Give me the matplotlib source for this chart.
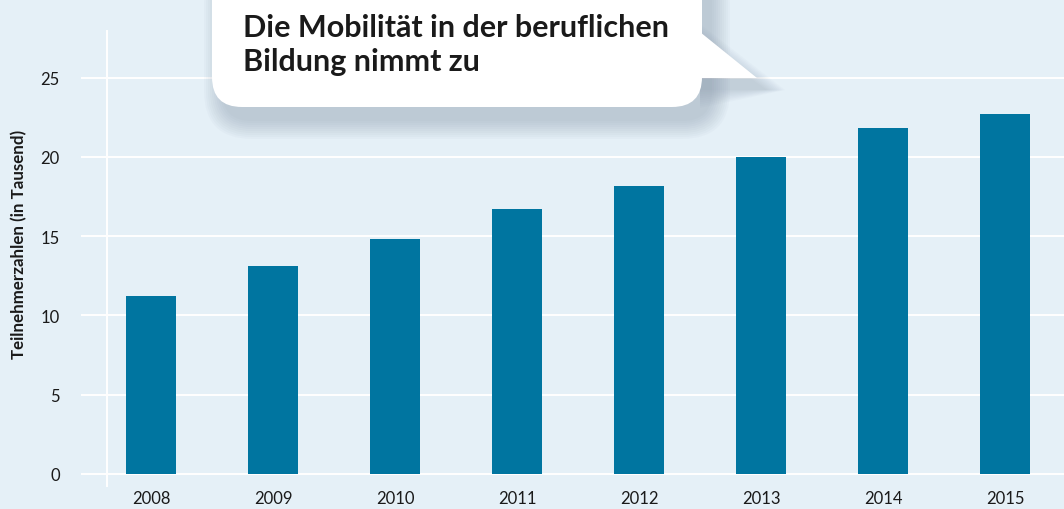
import matplotlib.pyplot as plt
from matplotlib.patches import FancyBboxPatch, Polygon

years = ['2008', '2009', '2010', '2011', '2012', '2013', '2014', '2015']
teilnehmer = [11.2, 13.1, 14.8, 16.7, 18.2, 20.0, 21.8, 22.7]
y_ticks = [0, 5, 10, 15, 20, 25]
titel = ['Die Mobilität in der beruflichen', 'Bildung nimmt zu']

BG = '#e5f0f7'
BAR = '#0075a0'
TXT = '#1a1a1a'

plt.rcParams['font.family'] = ['Lato', 'DejaVu Sans']

fig = plt.figure(figsize=(10.64, 5.10), dpi=100)
fig.patch.set_facecolor(BG)

ax = fig.add_axes([107 / 1064, 23 / 510, 957 / 1064, 455 / 510])
ax.set_facecolor(BG)
x = list(range(len(years)))
ax.bar(x, teilnehmer, width=0.41, color=BAR, zorder=3)

ax.set_xlim(-0.36, 7.48)
ax.set_ylim(-0.76, 27.95)
ax.set_yticks(y_ticks)
ax.set_xticks(x)
ax.set_xticklabels(years)
ax.grid(axis='y', color='white', linewidth=1.4, zorder=1)
ax.tick_params(axis='y', length=19, width=1.4, color='white', pad=15,
               labelsize=12, labelcolor=TXT)
ax.tick_params(axis='x', length=0, pad=3, labelsize=12, labelcolor=TXT)
for s in ['top', 'right', 'bottom']:
    ax.spines[s].set_visible(False)
ax.spines['left'].set_color('white')
ax.spines['left'].set_linewidth(1.4)
ax.set_ylabel('Teilnehmerzahlen (in Tausend)', fontsize=12.2, fontweight='bold',
              color=TXT)
ax.yaxis.set_label_coords(-0.0836, 0.534)

# Sprechblase mit Titel
ov = fig.add_axes([0, 0, 1, 1], zorder=10)
ov.set_xlim(0, 1064)
ov.set_ylim(510, 0)
ov.axis('off')

# weicher Schatten
for k in range(10):
    grow = 2 * k
    sh = FancyBboxPatch((212 + 10 - grow, -40 + 14 - grow), 490 + 2 * grow, 148 + 2 * grow,
                        boxstyle='round,pad=0,rounding_size=%d' % (30 + grow),
                        facecolor='#7f8fa3', edgecolor='none', alpha=0.045)
    ov.add_patch(sh)
    ov.add_patch(Polygon([(700, 33 + 10 - grow), (757 + 10 + grow, 79 + 12),
                          (700, 79 + 12 + grow)], closed=True,
                         facecolor='#7f8fa3', edgecolor='none', alpha=0.035))

box = FancyBboxPatch((212, -40), 490, 148, boxstyle='round,pad=0,rounding_size=30',
                     facecolor='white', edgecolor='none')
ov.add_patch(box)
ov.add_patch(Polygon([(700, 33), (757, 79), (700, 79)], closed=True,
                     facecolor='white', edgecolor='none'))
for zeile, base in zip(titel, [37, 71]):
    ov.text(243, base, zeile, fontsize=22, fontweight='bold', color=TXT,
            va='baseline', ha='left')

fig.savefig('out.png', dpi=100, facecolor=BG)
